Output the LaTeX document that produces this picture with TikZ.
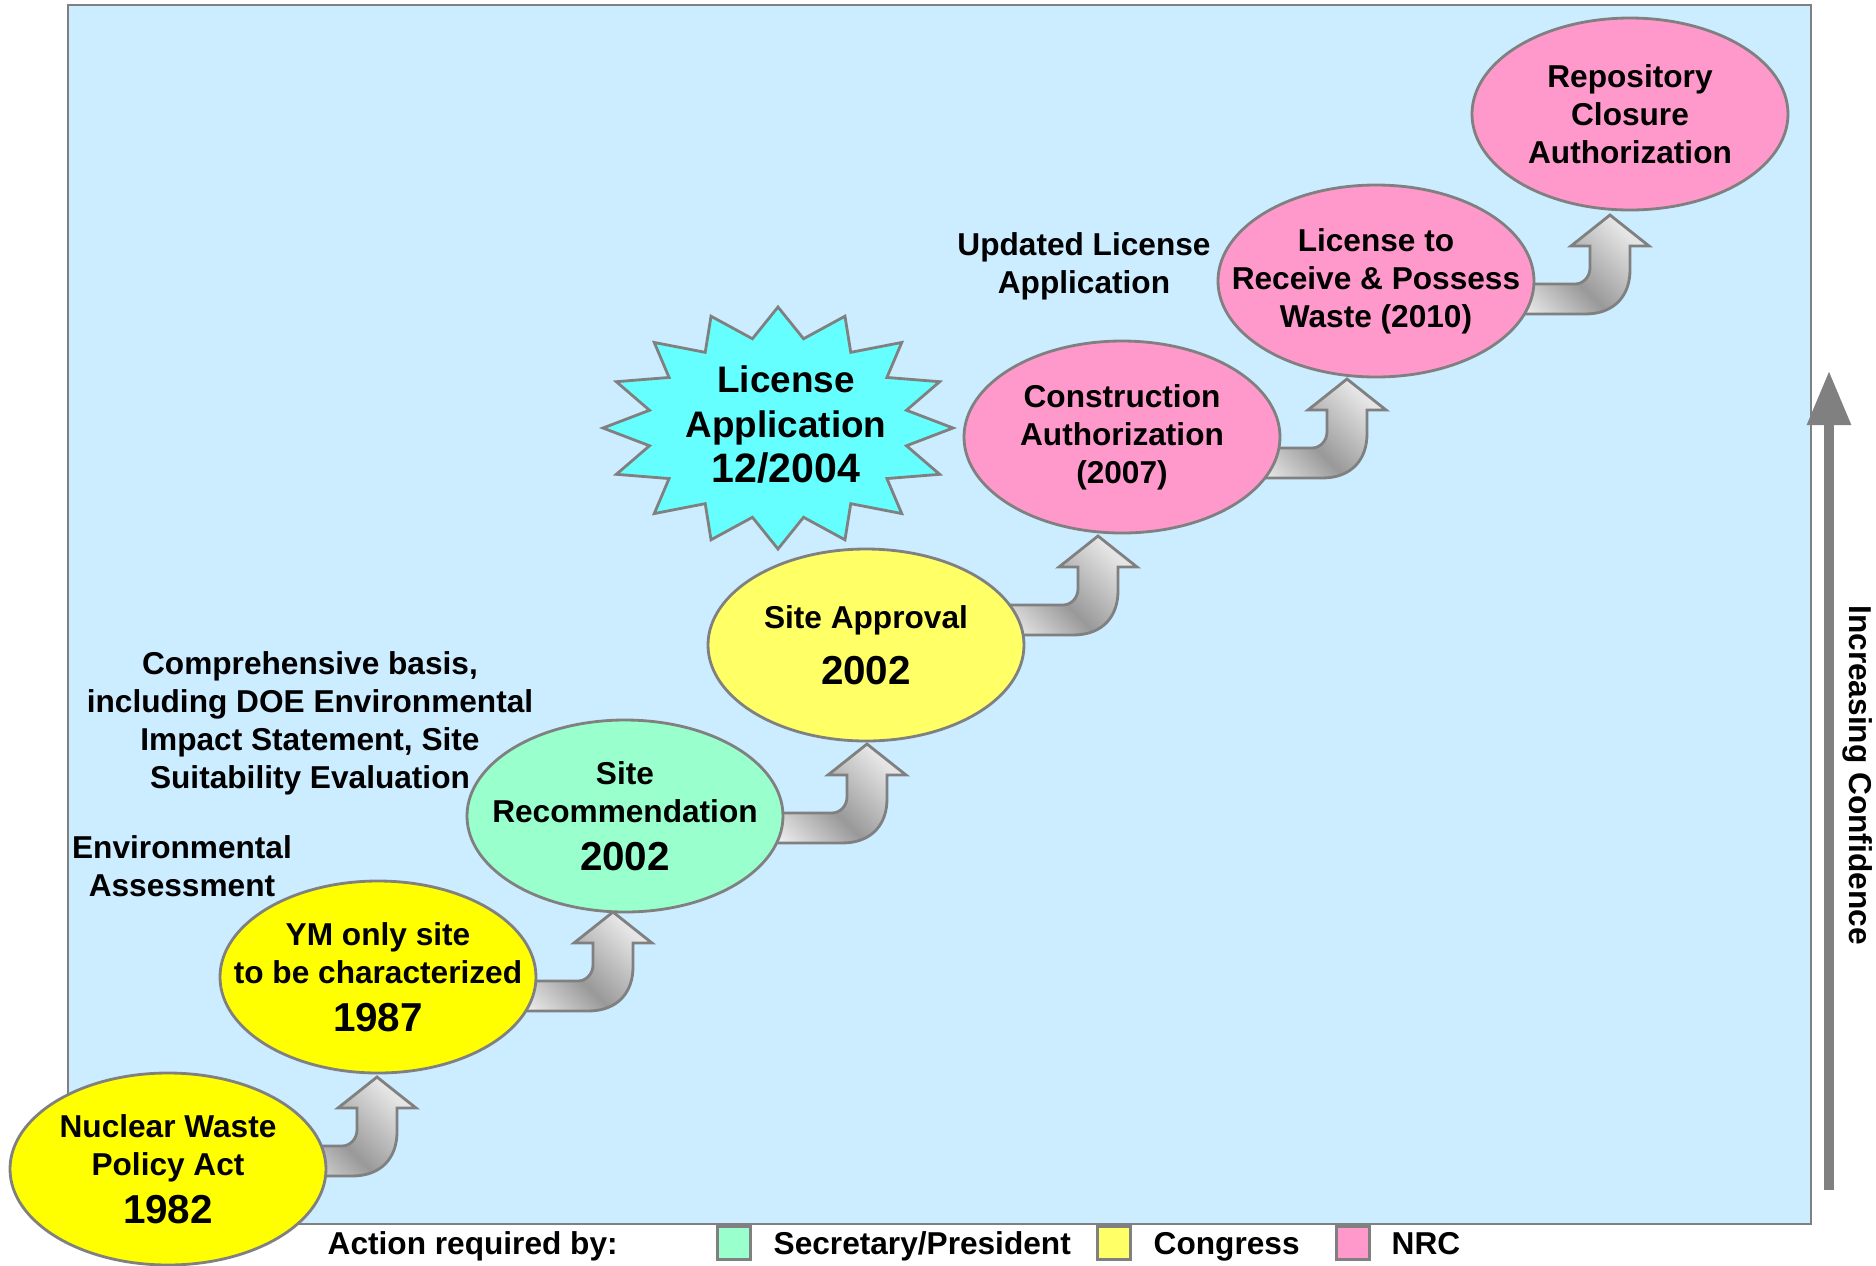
\documentclass[tikz,border=0pt]{standalone}
\usepackage{fontspec}
\setmainfont{Liberation Sans}
\usetikzlibrary{shapes.geometric,arrows.meta}

\definecolor{skyback}{HTML}{CCECFF}
\definecolor{edgegray}{HTML}{808080}
\definecolor{congressyellow}{HTML}{FFFF00}
\definecolor{approvalyellow}{HTML}{FFFF66}
\definecolor{secmint}{HTML}{99FFCC}
\definecolor{nrcpink}{HTML}{FF99CC}
\definecolor{burstcyan}{HTML}{66FFFF}

\newcommand{\labelfont}{\fontsize{9}{10.8}\selectfont\bfseries}
\newcommand{\yearfont}{\fontsize{11.5}{13}\selectfont\bfseries}
\newcommand{\burstfont}{\fontsize{10.5}{12.8}\selectfont\bfseries}

\tikzset{
  milestone/.style={ellipse, draw=edgegray, line width=0.8pt, minimum width=31.6mm,
    minimum height=19.2mm, inner xsep=-10mm, inner ysep=0pt, align=center, font=\labelfont},
  note/.style={align=center, font=\labelfont, inner sep=0pt},
  keybox/.style={draw=edgegray, line width=0.8pt, minimum width=3.3mm, minimum height=3.3mm, inner sep=0pt},
  turnshade/.style={draw=edgegray, line width=0.8pt, top color=gray!20, bottom color=gray!3,
    middle color=gray!80, shading angle=-45},
  upturn/.pic={
    \draw[turnshade] (0,0) -- (39,31) -- (20,31) -- (20,55)
      .. controls (20,80) and (5,99) .. (-25,99) -- (-140,99) -- (-140,69)
      -- (-35,69) .. controls (-27,69) and (-20,62) .. (-20,53)
      -- (-20,31) -- (-39,31) -- cycle;
  }
}

\begin{document}
\begin{tikzpicture}[x=0.1mm,y=-0.1mm]
  \useasboundingbox (0,0) rectangle (1876,1265);
  \draw[edgegray, fill=skyback, line width=0.8pt] (68,5) rectangle (1811,1224);

  % bent arrows from one step to the next
  \pic at (377,1077) {upturn};
  \pic at (613,912) {upturn};
  \pic at (867,744) {upturn};
  \pic at (1098,536) {upturn};
  \pic at (1347,379) {upturn};
  \pic at (1610,215) {upturn};

  % steps
  \node[milestone, fill=congressyellow] (nwpa) at (168,1169) {Nuclear Waste\\Policy Act\\[3pt]{\yearfont 1982}};
  \node[milestone, fill=congressyellow] (ymsite) at (378,977) {YM only site\\to be characterized\\[3pt]{\yearfont 1987}};
  \node[milestone, fill=secmint] (siterec) at (625,816) {Site\\Recommendation\\[3pt]{\yearfont 2002}};
  \node[milestone, fill=approvalyellow] (siteapp) at (866,645) {Site Approval\\[5pt]{\yearfont 2002}};
  \node[milestone, fill=nrcpink] (constr) at (1122,437) {Construction\\Authorization\\(2007)};
  \node[milestone, fill=nrcpink] (receive) at (1376,281) {License to\\Receive \& Possess\\Waste (2010)};
  \node[milestone, fill=nrcpink] (closure) at (1630,114) {Repository\\Closure\\Authorization};

  % license application burst
  \draw[edgegray, fill=burstcyan, line width=0.8pt, shift={(778,428)}] (90:175 and 121)
    \foreach \k in {0,...,15}{ -- ({101.25+22.5*\k}:131 and 91) -- ({112.5+22.5*\k}:175 and 121)} -- cycle;
  \node[note, font=\burstfont] (licapp) at (786,425) {License\\Application\\{\fontsize{11.7}{13}\selectfont 12/2004}};

  % side notes
  \node[note] (envassess) at (182,866) {Environmental\\Assessment};
  \node[note] (basis) at (310,723) {Comprehensive basis,\\including DOE Environmental\\Impact Statement, Site\\Suitability Evaluation};
  \node[note] (updated) at (1084,266) {Updated License\\Application};

  % confidence axis
  \coordinate (confbase) at (1829,1190);
  \coordinate (conftop) at (1829,371);
  \draw[edgegray, line width=2.6pt, -{Triangle[width=4.2mm,length=5.4mm]}] (confbase) -- (conftop);
  \node[note, rotate=-90] (conf) at (1858,775) {Increasing Confidence};

  % legend
  \node[note, anchor=base west] (legtitle) at (327,1254) {Action required by:};
  \node[keybox, fill=secmint] (keysec) at (734,1243) {};
  \node[note, anchor=base west] (legsec) at (773,1254) {Secretary/President};
  \node[keybox, fill=approvalyellow] (keycon) at (1114,1243) {};
  \node[note, anchor=base west] (legcon) at (1153,1254) {Congress};
  \node[keybox, fill=nrcpink] (keynrc) at (1353,1243) {};
  \node[note, anchor=base west] (legnrc) at (1391,1254) {NRC};
\end{tikzpicture}
\end{document}
